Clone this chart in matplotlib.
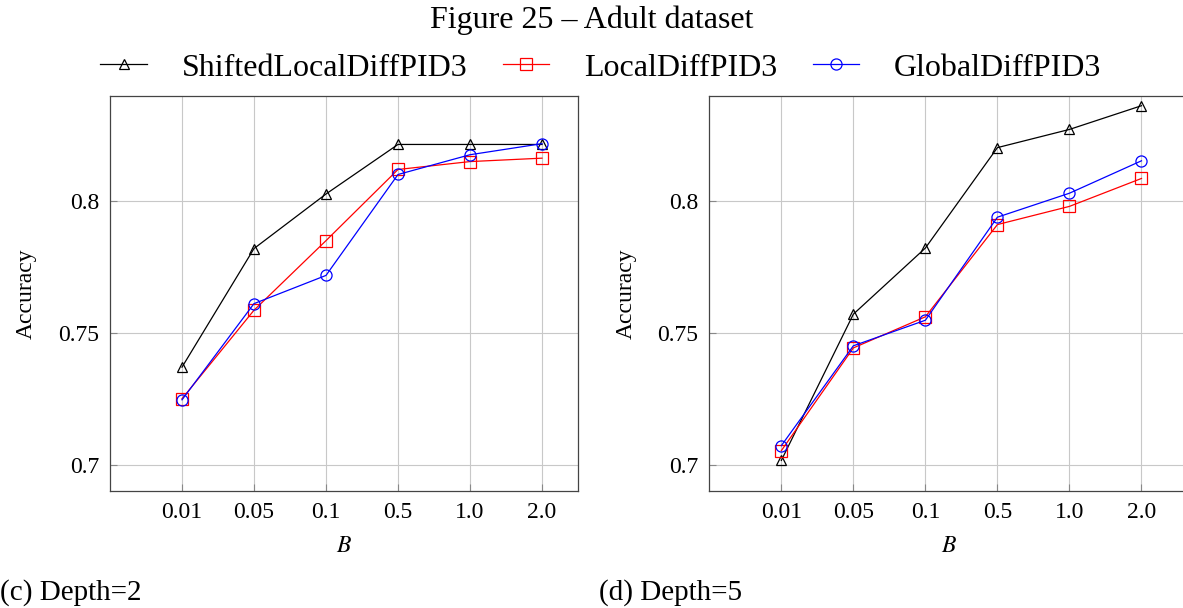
import matplotlib
matplotlib.use("Agg")
import matplotlib.pyplot as plt
from matplotlib.lines import Line2D

categories = ["0.01", "0.05", "0.1", "0.5", "1.0", "2.0"]
series_names = ["ShiftedLocalDiffPID3", "LocalDiffPID3", "GlobalDiffPID3"]

# Depth = 2
d2_shifted = [0.737, 0.782, 0.8027, 0.8215, 0.8215, 0.8215]
d2_local = [0.725, 0.7586, 0.785, 0.812, 0.815, 0.8163]
d2_global = [0.7246, 0.7611, 0.7718, 0.8101, 0.8176, 0.8218]

# Depth = 5
d5_shifted = [0.7016, 0.7571, 0.7822, 0.8203, 0.8272, 0.8362]
d5_local = [0.7053, 0.7443, 0.7561, 0.7911, 0.798, 0.8086]
d5_global = [0.7072, 0.7451, 0.7548, 0.7939, 0.803, 0.8153]

yticks = [0.7, 0.75, 0.8]
ytick_labels = ["0.7", "0.75", "0.8"]

plt.rcParams["font.family"] = ["Liberation Serif", "DejaVu Serif"]
plt.rcParams["mathtext.fontset"] = "stix"

W, H = 1183, 608
fig = plt.figure(figsize=(W / 100, H / 100), dpi=100)

styles = [
    dict(color="black", marker="^", markersize=7),
    dict(color="red", marker="s", markersize=8),
    dict(color="blue", marker="o", markersize=8),
]

def make_ax(left_px, width_px, xmax, data, caption):
    ax = fig.add_axes([left_px / W, 117 / H, width_px / W, (491 - 95.7) / H])
    x = list(range(len(categories)))
    for vals, st in zip(data, styles):
        ax.plot(x, vals, linewidth=0.9, markerfacecolor="none",
                markeredgewidth=0.9, clip_on=False, **st)
    ax.set_xlim(-1, xmax)
    ax.set_ylim(0.69, 0.84)
    ax.set_xticks(x)
    ax.set_xticklabels(categories)
    ax.set_yticks(yticks)
    ax.set_yticklabels(ytick_labels)
    ax.grid(True, color="#c8c8c8", linewidth=0.8)
    ax.set_axisbelow(True)
    ax.tick_params(direction="in", length=5, color="#888888", labelsize=17,
                   pad=8)
    for s in ax.spines.values():
        s.set_color("#444444")
        s.set_linewidth(0.9)
    ax.set_xlabel(r"$B$", fontsize=17, labelpad=9)
    ax.set_ylabel("Accuracy", fontsize=17, labelpad=15)
    fig.text((left_px - 110) / W, 8 / H, caption, fontsize=21,
             ha="left", va="baseline")
    return ax

make_ax(110, 468, 5.5, [d2_shifted, d2_local, d2_global], "(c) Depth=2")
make_ax(709.3, 479, 5.65, [d5_shifted, d5_local, d5_global], "(d) Depth=5")

fig.text(0.5, 1 - 20 / H, "Figure 25 \u2013 Adult dataset", fontsize=23,
         ha="center", va="center")

handles = [Line2D([], [], linewidth=0.9, markerfacecolor="none",
                  markeredgewidth=0.9, **st) for st in styles]
fig.legend(handles, series_names, loc="center", ncol=3,
           bbox_to_anchor=(601 / W, 1 - 68 / H), frameon=False, fontsize=23,
           handlelength=1.45, handletextpad=1.1, columnspacing=1.1,
           borderpad=0, borderaxespad=0)

fig.savefig("out.png", dpi=100)
